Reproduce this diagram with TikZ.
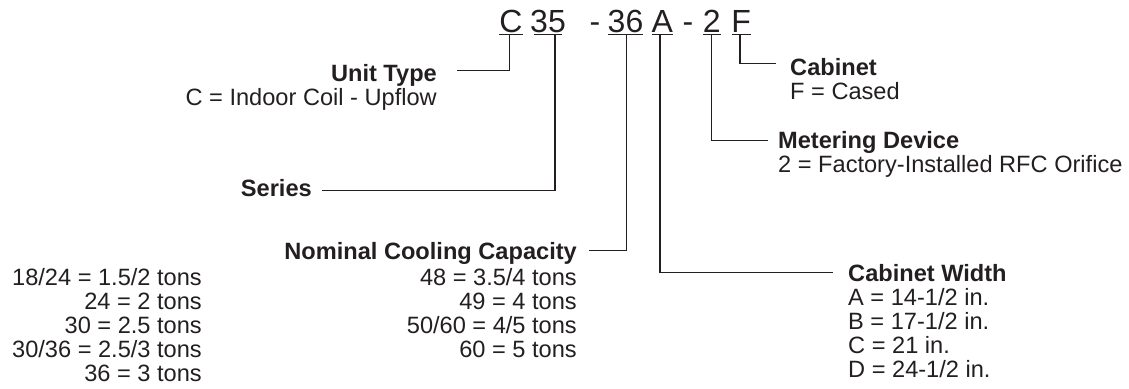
\documentclass[tikz,border=0pt]{standalone}
\usepackage{fontspec}
\setmainfont{Liberation Sans}
\definecolor{ink}{RGB}{35,31,32}
\tikzset{
  lbl/.style={inner sep=0pt, text=ink, font=\fontsize{23.6}{24}\selectfont},
  hdr/.style={lbl, font=\fontsize{23.6}{24}\selectfont\bfseries},
  code/.style={inner sep=0pt, text=ink, font=\fontsize{32}{32}\selectfont, anchor=base},
  conn/.style={draw=ink, line width=1.3pt},
  uline/.style={draw=ink, line width=1.5pt}
}
\begin{document}
\begin{tikzpicture}[x=1pt,y=-1pt]
\useasboundingbox (0,0) rectangle (1129,388);
% code characters
\node[code] (cC) at (511,32.5) {C};
\node[code] (c35) at (548,32.5) {35};
\node[code] (d1) at (595,32.5) {-};
\node[code] (c36) at (625.5,32.5) {36};
\node[code] (cA) at (662.3,32.5) {A};
\node[code] (d2) at (688,32.5) {-};
\node[code] (c2) at (711.7,32.5) {2};
\node[code] (cF) at (741.2,32.5) {F};
% underlines
\draw[uline] (499.3,34.5) -- (522.7,34.5);
\draw[uline] (534.3,34.5) -- (561.7,34.5);
\draw[uline] (607.7,34.5) -- (643,34.5);
\draw[uline] (651.7,34.5) -- (673,34.5);
\draw[uline] (702.7,34.5) -- (720.7,34.5);
\draw[uline] (731.7,34.5) -- (750.7,34.5);
% labels
\node[hdr, anchor=base east] (unitT) at (437,81) {Unit Type};
\node[lbl, anchor=base east] (unitV) at (437,105) {C = Indoor Coil - Upflow};
\node[hdr, anchor=base west] (cabT) at (790,75) {Cabinet};
\node[lbl, anchor=base west] (cabV) at (790,99) {F = Cased};
\node[hdr, anchor=base west] (metT) at (778,148) {Metering Device};
\node[lbl, anchor=base west] (metV) at (778,172) {2 = Factory-Installed RFC Orifice};
\node[hdr, anchor=base east] (serT) at (312,196) {Series};
\node[hdr, anchor=base east] (nomT) at (577,259) {Nominal Cooling Capacity};
\node[lbl, anchor=base east] (nom1) at (577,285) {48 = 3.5/4 tons};
\node[lbl, anchor=base east] (nom2) at (577,309) {49 = 4 tons};
\node[lbl, anchor=base east] (nom3) at (577,333) {50/60 = 4/5 tons};
\node[lbl, anchor=base east] (nom4) at (577,357) {60 = 5 tons};
\node[lbl, anchor=base east] (left1) at (202,285) {18/24 = 1.5/2 tons};
\node[lbl, anchor=base east] (left2) at (202,309) {24 = 2 tons};
\node[lbl, anchor=base east] (left3) at (202,333) {30 = 2.5 tons};
\node[lbl, anchor=base east] (left4) at (202,357) {30/36 = 2.5/3 tons};
\node[lbl, anchor=base east] (left5) at (202,381) {36 = 3 tons};
\node[hdr, anchor=base west] (cwT) at (848,281) {Cabinet Width};
\node[lbl, anchor=base west] (cw1) at (848,305) {A = 14-1/2 in.};
\node[lbl, anchor=base west] (cw2) at (848,329) {B = 17-1/2 in.};
\node[lbl, anchor=base west] (cw3) at (848,353) {C = 21 in.};
\node[lbl, anchor=base west] (cw4) at (848,377) {D = 24-1/2 in.};
% connector ends
\coordinate (sC) at (509.3,34.5);
\coordinate (s35) at (555,34.5);
\coordinate (s36) at (626.7,34.5);
\coordinate (sA) at (660,34.5);
\coordinate (s2) at (711.7,34.5);
\coordinate (sF) at (740,34.5);
\coordinate (eUnit) at (457,70.7);
\coordinate (eSer) at (321.7,190.7);
\coordinate (eNom) at (589,250.7);
\coordinate (eCW) at (833,272.7);
\coordinate (eMet) at (768,140.7);
\coordinate (eCab) at (776,63.5);
% connectors
\draw[conn] (sC) |- (eUnit);
\draw[conn] (s35) |- (eSer);
\draw[conn] (s36) |- (eNom);
\draw[conn] (sA) |- (eCW);
\draw[conn] (s2) |- (eMet);
\draw[conn] (sF) |- (eCab);
\end{tikzpicture}
\end{document}
